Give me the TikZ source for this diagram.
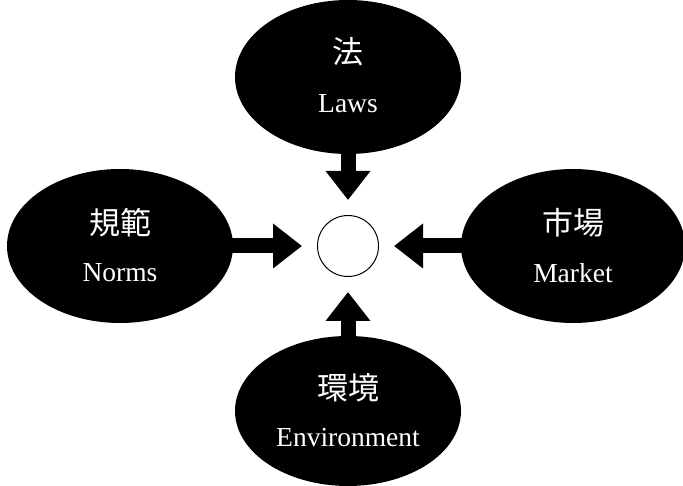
\documentclass[tikz,border=0pt]{standalone}
\usepackage{fontspec}
\setmainfont{Liberation Serif}
\newfontfamily\cjk{Noto Sans CJK JP}
\usetikzlibrary{shapes.geometric}
\usetikzlibrary{arrows.meta}

\begin{document}
\begin{tikzpicture}[x=1pt,y=1pt,
    force/.style={ellipse,fill=black,inner sep=0pt,minimum width=226pt,minimum height=154pt},
    jp/.style={text=white,font=\cjk\fontsize{31}{31}\selectfont},
    en/.style={text=white,font=\fontsize{27.5}{27.5}\selectfont},
    push/.style={line width=15pt,-{Triangle[width=43pt,length=29pt]},shorten >=15pt,shorten <=-2pt}]
    \useasboundingbox (0,0) rectangle (683,485);
    \node[circle,draw,line width=1pt,minimum size=61pt,inner sep=0pt] (dot) at (348,239) {};
    \node[force] (laws) at (348,408) {};
    \node[force] (norms) at (120,239) {};
    \node[force,minimum width=224pt] (market) at (573,239) {};
    \node[force,minimum height=150pt] (env) at (348,74) {};
    \node[jp] (laws-jp) at ([yshift=25pt]laws.center) {法};
    \node[en] (laws-en) at ([yshift=-27pt]laws.center) {Laws};
    \node[jp] (norms-jp) at ([yshift=23pt]norms.center) {規範};
    \node[en] (norms-en) at ([yshift=-27pt]norms.center) {Norms};
    \node[jp] (market-jp) at ([yshift=23pt]market.center) {市場};
    \node[en] (market-en) at ([yshift=-27pt]market.center) {Market};
    \node[jp] (env-jp) at ([yshift=23pt]env.center) {環境};
    \node[en] (env-en) at ([yshift=-27pt]env.center) {Environment};
    \draw[push] (laws) -- (dot);
    \draw[push] (norms) -- (dot);
    \draw[push] (market) -- (dot);
    \draw[push] (env) -- (dot);
\end{tikzpicture}
\end{document}
